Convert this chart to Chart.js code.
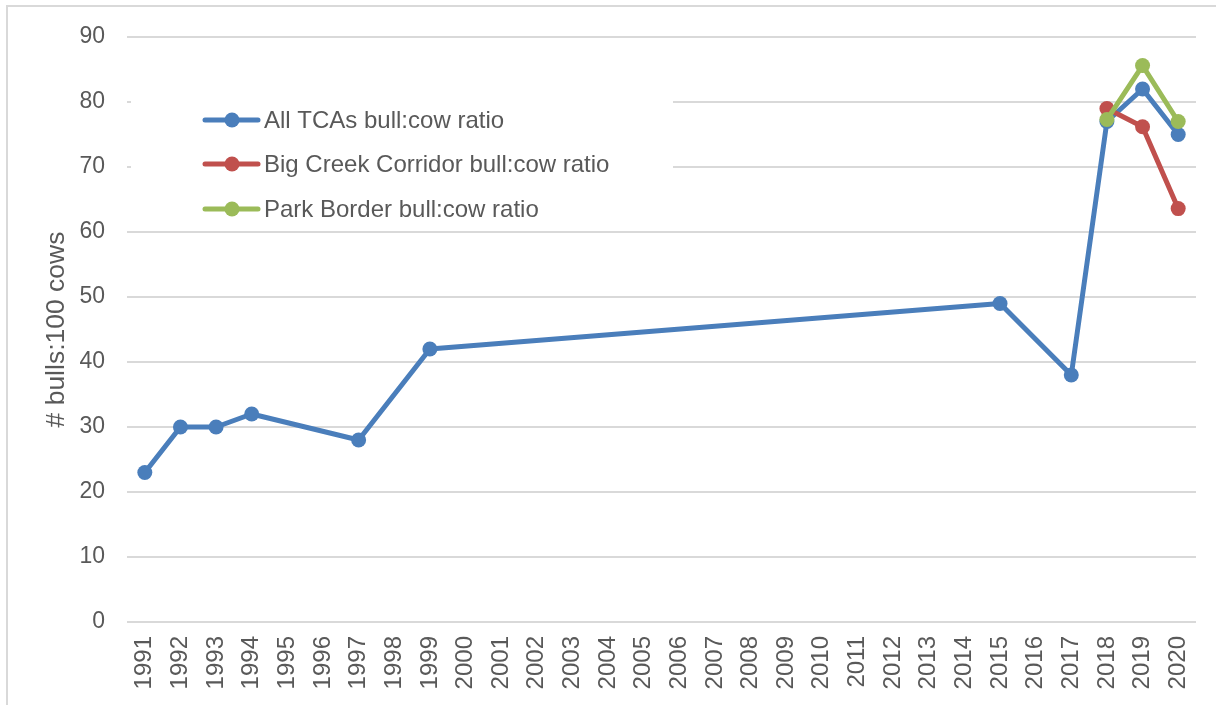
<!DOCTYPE html>
<html>
<head>
<meta charset="utf-8">
<script src="https://cdn.jsdelivr.net/npm/chart.js@4"></script>
<style>
html,body{margin:0;padding:0;background:#fff;}
#wrap{width:1216px;height:705px;position:relative;}
</style>
</head>
<body>
<div id="wrap"><canvas id="c" width="1216" height="705"></canvas></div>
<script>
const years = ["1991","1992","1993","1994","1995","1996","1997","1998","1999","2000","2001","2002","2003","2004","2005","2006","2007","2008","2009","2010","2011","2012","2013","2014","2015","2016","2017","2018","2019","2020"];
const allTCAs = [23,30,30,32,null,null,28,null,42,null,null,null,null,null,null,null,null,null,null,null,null,null,null,null,49,null,38,77,82,75];
const bigCreek = [null,null,null,null,null,null,null,null,null,null,null,null,null,null,null,null,null,null,null,null,null,null,null,null,null,null,null,79,76.2,63.6];
const parkBorder = [null,null,null,null,null,null,null,null,null,null,null,null,null,null,null,null,null,null,null,null,null,null,null,null,null,null,null,77.3,85.6,77];
const seriesNames = ["All TCAs bull:cow ratio","Big Creek Corridor bull:cow ratio","Park Border bull:cow ratio"];
const seriesColors = ["#4a7ebb","#c0504d","#9bbb59"];
const yTicks = [0,10,20,30,40,50,60,70,80,90];
const yTitle = "# bulls:100 cows";

const FONT = "'Liberation Sans', Arial, sans-serif";
const TXT = "#595959";

function ds(label, data, color, order){
  return {label, data, borderColor: color, backgroundColor: color, pointBackgroundColor: color,
    pointBorderWidth: 0, pointRadius: 7.5, pointHoverRadius: 7.5, borderWidth: 5, spanGaps: true,
    tension: 0, order, borderJoinStyle: 'round', borderCapStyle: 'round'};
}

const legendPlugin = {
  id: 'customLegend',
  beforeDatasetsDraw(chart){
    const ctx = chart.ctx;
    ctx.save();
    ctx.fillStyle = '#fff';
    ctx.fillRect(131, 88, 542, 143);
    const rows = [120, 164, 209];
    ctx.font = "24px " + FONT;
    ctx.textBaseline = 'middle';
    for (let i = 0; i < 3; i++){
      const y = rows[i];
      ctx.strokeStyle = seriesColors[i];
      ctx.lineWidth = 5;
      ctx.lineCap = 'round';
      ctx.beginPath(); ctx.moveTo(205, y); ctx.lineTo(258, y); ctx.stroke();
      ctx.fillStyle = seriesColors[i];
      ctx.beginPath(); ctx.arc(232, y, 7.5, 0, Math.PI*2); ctx.fill();
      ctx.fillStyle = TXT;
      ctx.fillText(seriesNames[i], 264, y + 1);
    }
    ctx.restore();
  },
  afterDraw(chart){
    const ctx = chart.ctx;
    ctx.save();
    ctx.strokeStyle = '#d9d9d9';
    ctx.lineWidth = 2;
    ctx.beginPath(); ctx.moveTo(7, 705); ctx.lineTo(7, 6); ctx.lineTo(1216, 6); ctx.stroke();
    ctx.restore();
  }
};

new Chart(document.getElementById('c'), {
  type: 'line',
  data: {
    labels: years,
    datasets: [
      ds(seriesNames[0], allTCAs, seriesColors[0], 2),
      ds(seriesNames[1], bigCreek, seriesColors[1], 1),
      ds(seriesNames[2], parkBorder, seriesColors[2], 0)
    ]
  },
  options: {
    responsive: false,
    animation: false,
    devicePixelRatio: 1,
    layout: { padding: { top: 37, right: 20, left: 0, bottom: 0 } },
    plugins: { legend: { display: false }, tooltip: { enabled: false } },
    scales: {
      x: {
        type: 'category',
        offset: true,
        grid: { display: false, drawTicks: false },
        border: { display: false },
        ticks: { color: TXT, font: { family: FONT, size: 24 }, minRotation: 90, maxRotation: 90, autoSkip: false, padding: 14 },
        afterFit(scale){ scale.height = 83; scale.paddingRight = 0; scale.paddingLeft = 0; }
      },
      y: {
        min: 0, max: 90,
        afterBuildTicks(scale){ scale.ticks = yTicks.map(v => ({value: v})); },
        grid: { color: '#d9d9d9', lineWidth: 2, drawTicks: false },
        border: { display: false },
        ticks: { color: TXT, font: { family: FONT, size: 23 }, padding: 22, stepSize: 10 },
        title: { display: true, text: yTitle, color: TXT, font: { family: FONT, size: 26.5, lineHeight: 1.2 }, padding: { top: 41, bottom: 0 } },
        afterFit(scale){ scale.width = 127; }
      }
    }
  },
  plugins: [legendPlugin]
});
</script>
</body>
</html>
